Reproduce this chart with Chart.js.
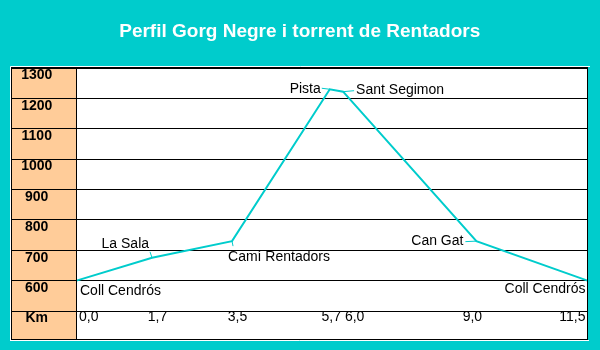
<!DOCTYPE html>
<html>
<head>
<meta charset="utf-8">
<script src="https://cdn.jsdelivr.net/npm/chart.js@4.4.1/dist/chart.umd.min.js"></script>
<style>
html, body { margin: 0; padding: 0; background: #00CCCC; }
#wrap { width: 600px; height: 350px; position: relative; }
</style>
</head>
<body>
<div id="wrap"><canvas id="c"></canvas></div>
<script>
// ---- data ----
const chartTitle = 'Perfil Gorg Negre i torrent de Rentadors';
const places = ['Coll Cendrós', 'La Sala', 'Camí Rentadors', 'Pista', 'Sant Segimon', 'Can Gat', 'Coll Cendrós'];
const km = [0.0, 1.7, 3.5, 5.7, 6.0, 9.0, 11.5];
const altitude = [600, 675, 730, 1230, 1222, 730, 600];
const kmTicks = [0.0, 1.7, 3.5, 5.7, 6.0, 9.0, 11.5];
const kmTickLabels = ['0,0', '1,7', '3,5', '5,7', '6,0', '9,0', '11,5'];
const altMin = 500, altMax = 1300, altStep = 100;
const unitLabel = 'Km';

// ---- style ----
const FONT = "'Liberation Sans', Arial, sans-serif";
const TEAL = '#00CCCC';
const PEACH = '#FFCC99';
const frame = { left: 12, top: 67.5, right: 587.5, bottom: 339.5 };
const placeStyle = [
  { dx: 3.5, dy: 11, align: 'left' },
  { dx: -3, dy: -13.5, align: 'right', lead: [-2, -6] },
  { dx: -4, dy: 16.5, align: 'left', lead: [1, 5] },
  { dx: -9, dy: -0.5, align: 'right', lead: [-8, -1] },
  { dx: 13, dy: -1.5, align: 'left', lead: [11, -1] },
  { dx: -13, dy: 0.5, align: 'right', lead: [-11, 0.5] },
  { dx: -2, dy: 9, align: 'right' }
];
const kmLabelStyle = [
  { dx: 2.5, align: 'left' },
  { dx: 5.5, align: 'center' },
  { dx: 5.5, align: 'center' },
  { dx: 1.5, align: 'center' },
  { dx: 11.5, align: 'center' },
  { dx: -4, align: 'center' },
  { dx: -2, align: 'right' }
];

const decorPlugin = {
  id: 'decor',
  beforeDraw(chart) {
    const ctx = chart.ctx, a = chart.chartArea;
    ctx.save();
    ctx.fillStyle = '#FFFFFF';
    ctx.fillRect(a.left, frame.top, frame.right - a.left, frame.bottom - frame.top);
    ctx.fillStyle = PEACH;
    ctx.fillRect(frame.left, frame.top, a.left - frame.left, frame.bottom - frame.top);
    ctx.restore();
  },
  afterDraw(chart) {
    const ctx = chart.ctx, a = chart.chartArea;
    const xs = chart.scales.x;
    ctx.save();
    // frame
    ctx.strokeStyle = '#FFFFFF';
    ctx.lineWidth = 1;
    ctx.beginPath();
    ctx.moveTo(10.5, 341); ctx.lineTo(10.5, 66.5); ctx.lineTo(590, 66.5);
    ctx.moveTo(10.5, 340.5); ctx.lineTo(589, 340.5);
    ctx.stroke();
    ctx.strokeStyle = '#000000';
    ctx.strokeRect(frame.left - 0.5, frame.top, frame.right - frame.left + 0.5, frame.bottom - frame.top);
    ctx.beginPath();
    ctx.moveTo(Math.round(a.left) - 0.5, frame.top);
    ctx.lineTo(Math.round(a.left) - 0.5, frame.bottom);
    ctx.stroke();
    // km labels along the x scale
    ctx.fillStyle = '#000000';
    ctx.font = '14px ' + FONT;
    ctx.textBaseline = 'middle';
    kmTicks.forEach((v, i) => {
      const st = kmLabelStyle[i];
      ctx.textAlign = st.align;
      ctx.fillText(kmTickLabels[i], xs.getPixelForValue(v) + st.dx, a.bottom + 6.5);
    });
    // place names with leaders
    const meta = chart.getDatasetMeta(0);
    meta.data.forEach((pt, i) => {
      const st = placeStyle[i];
      if (st.lead) {
        ctx.strokeStyle = TEAL;
        ctx.lineWidth = 1;
        ctx.beginPath();
        ctx.moveTo(pt.x, pt.y);
        ctx.lineTo(pt.x + st.lead[0], pt.y + st.lead[1]);
        ctx.stroke();
      }
      ctx.fillStyle = '#000000';
      ctx.textAlign = st.align;
      ctx.fillText(places[i], pt.x + st.dx, pt.y + st.dy);
    });
    ctx.restore();
  }
};

new Chart(document.getElementById('c'), {
  type: 'line',
  data: {
    datasets: [{
      data: km.map((k, i) => ({ x: k, y: altitude[i] })),
      borderColor: TEAL,
      borderWidth: 2,
      pointRadius: 0,
      tension: 0,
      fill: false
    }]
  },
  options: {
    responsive: true,
    maintainAspectRatio: false,
    animation: false,
    devicePixelRatio: 1,
    layout: { padding: { left: 12, right: 12.5, top: 0, bottom: 11 } },
    plugins: {
      legend: { display: false },
      tooltip: { enabled: false },
      title: {
        display: true,
        text: chartTitle,
        color: '#FFFFFF',
        font: { family: FONT, size: 19, weight: 'bold', lineHeight: 1.2 },
        padding: { top: 20, bottom: 25.2 }
      }
    },
    scales: {
      x: {
        type: 'linear',
        min: 0,
        max: 11.5,
        grid: { display: false },
        border: { display: false },
        ticks: { display: false },
        afterBuildTicks(s) { s.ticks = kmTicks.map(v => ({ value: v })); },
        afterFit(s) { s.height = 28; }
      },
      y: {
        min: altMin,
        max: altMax,
        grid: { color: '#000000', lineWidth: 1, drawTicks: true, tickLength: 64.5 },
        border: { display: true, color: '#000000' },
        ticks: {
          stepSize: altStep,
          color: '#000000',
          font: { family: FONT, size: 14, weight: 'bold' },
          crossAlign: 'center',
          padding: -40.3,
          labelOffset: 7.5,
          callback: (v) => (v === altMin ? unitLabel : String(v))
        },
        afterFit(s) { s.width = 64.5; }
      }
    }
  },
  plugins: [decorPlugin]
});
</script>
</body>
</html>
